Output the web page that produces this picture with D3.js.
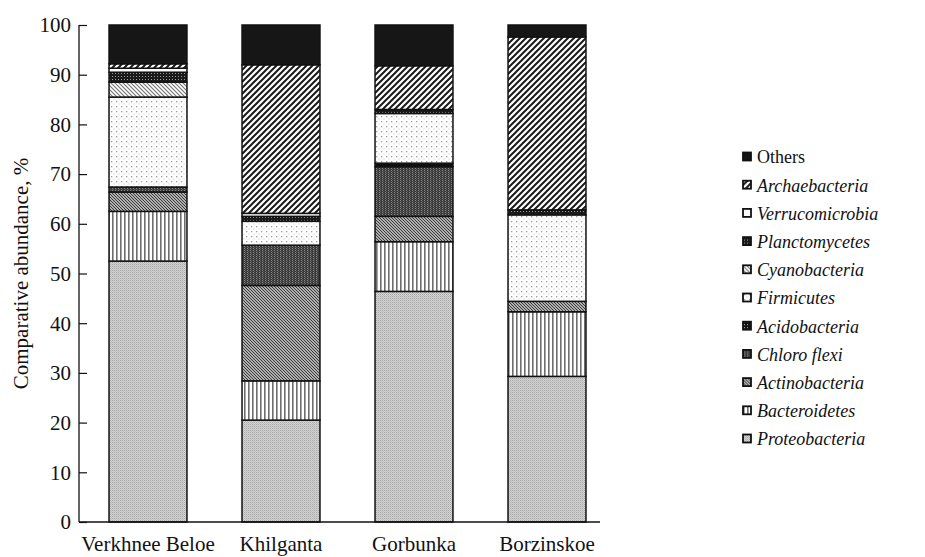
<!DOCTYPE html>
<html>
<head>
<meta charset="utf-8">
<script src="https://cdn.jsdelivr.net/npm/d3@7"></script>
<style>
  body { margin: 0; background: #fff; }
  #chart text { font-family: "Liberation Serif", serif !important; }
</style>
</head>
<body>
<svg id="chart" width="925" height="557" font-family="Liberation Serif"></svg>
<script>
// sites along the x axis
var sites = ["Verkhnee Beloe", "Khilganta", "Gorbunka", "Borzinskoe"];

// taxa, bottom to top of the stack
var taxa = ["Proteobacteria", "Bacteroidetes", "Actinobacteria", "Chloroflexi",
            "Acidobacteria", "Firmicutes", "Cyanobacteria", "Planctomycetes",
            "Verrucomicrobia", "Archaebacteria", "Others"];

// share of each taxon per site, % (same order as sites)
var proteobacteria  = [52.5, 20.5, 46.4, 29.3];
var bacteroidetes   = [10.0,  7.9, 10.0, 13.0];
var actinobacteria  = [ 3.9, 19.2,  5.1,  2.1];
var chloroflexi     = [ 1.0,  8.1, 10.0,  0.0];
var acidobacteria   = [ 0.0,  0.0,  0.7,  0.0];
var firmicutes      = [18.1,  4.8, 10.0, 17.4];
var cyanobacteria   = [ 3.0,  0.0,  0.0,  0.0];
var planctomycetes  = [ 2.0,  1.0,  0.8,  1.0];
var verrucomicrobia = [ 0.8,  0.6,  0.0,  0.0];
var archaebacteria  = [ 0.9, 29.9,  8.8, 34.8];
var others          = [ 7.8,  8.0,  8.2,  2.4];

var yTicks = [0, 10, 20, 30, 40, 50, 60, 70, 80, 90, 100];

var FONT = "Liberation Serif";

var series = [proteobacteria, bacteroidetes, actinobacteria, chloroflexi,
              acidobacteria, firmicutes, cyanobacteria, planctomycetes,
              verrucomicrobia, archaebacteria, others];

var rows = sites.map(function(s, i) {
    var r = { site: s };
    taxa.forEach(function(t, j) { r[t] = series[j][i]; });
    return r;
});

var svg = d3.select("#chart");
var defs = svg.append("defs");

// fill patterns, roughly like the printed hatchings
function pat(id, w, h, bg) {
    var p = defs.append("pattern")
        .attr("id", id)
        .attr("patternUnits", "userSpaceOnUse")
        .attr("width", w)
        .attr("height", h);
    p.append("rect").attr("width", w).attr("height", h).attr("fill", bg);
    return p;
}

var p;
// Proteobacteria: fine light grey texture
p = pat("p-proteo", 2, 2, "#d4d4d4");
p.append("rect").attr("x", 0).attr("y", 0).attr("width", 1).attr("height", 1).attr("fill", "#a8a8a8");
p.append("rect").attr("x", 1).attr("y", 1).attr("width", 1).attr("height", 1).attr("fill", "#bcbcbc");

// Bacteroidetes: vertical grey lines
p = pat("p-bact", 4, 4, "#fff");
p.append("rect").attr("x", 0).attr("y", 0).attr("width", 1.6).attr("height", 4).attr("fill", "#6e6e6e");

// Actinobacteria: dense backslash hatch
p = pat("p-actino", 3, 3, "#e0e0e0");
p.append("path").attr("d", "M0,0 L3,3 M-1,2 L1,4 M2,-1 L4,1").attr("stroke", "#333").attr("stroke-width", 1.1);

// Chloroflexi: dark with vertical light streaks
p = pat("p-chloro", 3, 2, "#3a3a3a");
p.append("rect").attr("x", 1).attr("y", 0).attr("width", 1).attr("height", 1).attr("fill", "#8a8a8a");
p.append("rect").attr("x", 2).attr("y", 1).attr("width", 1).attr("height", 1).attr("fill", "#5a5a5a");

// Acidobacteria: black with light dots
p = pat("p-acido", 3, 3, "#111");
p.append("rect").attr("x", 1).attr("y", 1).attr("width", 1).attr("height", 1).attr("fill", "#bbb");

// Firmicutes: white with sparse grey dots
p = pat("p-firm", 5, 5, "#fff");
p.append("rect").attr("x", 1).attr("y", 1).attr("width", 1.3).attr("height", 1.3).attr("fill", "#9a9a9a");
p.append("rect").attr("x", 3.5).attr("y", 3.5).attr("width", 1).attr("height", 1).attr("fill", "#c4c4c4");

// Cyanobacteria: lighter backslash hatch
p = pat("p-cyano", 4, 4, "#fff");
p.append("path").attr("d", "M0,0 L4,4 M-1,3 L1,5 M3,-1 L5,1").attr("stroke", "#777").attr("stroke-width", 1.2);

// Planctomycetes: black with dots
p = pat("p-planct", 3, 3, "#1a1a1a");
p.append("rect").attr("x", 1).attr("y", 1).attr("width", 1).attr("height", 1).attr("fill", "#999");

// Verrucomicrobia: plain white
p = pat("p-verru", 4, 4, "#fff");

// Archaebacteria: bold slash hatch
p = pat("p-archae", 6, 6, "#fff");
p.append("path").attr("d", "M0,6 L6,0 M-1.5,1.5 L1.5,-1.5 M4.5,7.5 L7.5,4.5").attr("stroke", "#1a1a1a").attr("stroke-width", 2);

var fills = {
    Proteobacteria: "url(#p-proteo)",
    Bacteroidetes: "url(#p-bact)",
    Actinobacteria: "url(#p-actino)",
    Chloroflexi: "url(#p-chloro)",
    Acidobacteria: "url(#p-acido)",
    Firmicutes: "url(#p-firm)",
    Cyanobacteria: "url(#p-cyano)",
    Planctomycetes: "url(#p-planct)",
    Verrucomicrobia: "url(#p-verru)",
    Archaebacteria: "url(#p-archae)",
    Others: "#161616"
};

var x = d3.scaleBand()
    .domain(sites)
    .range([81.5, 613.5])
    .paddingInner(0.414)
    .paddingOuter(0.207);

var y = d3.scaleLinear()
    .domain([0, 100])
    .range([522, 25]);

var stack = d3.stack().keys(taxa);
var layers = stack(rows);

var g = svg.selectAll(".layer")
    .data(layers)
    .enter().append("g")
    .attr("class", "layer")
    .attr("fill", function(d) { return fills[d.key]; });

g.selectAll("rect")
    .data(function(d) { return d.filter(function(v) { return v[1] - v[0] > 0; }); })
    .enter().append("rect")
    .attr("x", function(d) { return x(d.data.site); })
    .attr("width", x.bandwidth())
    .attr("y", function(d) { return y(d[1]); })
    .attr("height", function(d) { return y(d[0]) - y(d[1]); })
    .attr("stroke", "#111")
    .attr("stroke-width", 1.5);

// y axis, ticks pointing into the plot
var yAxis = svg.append("g")
    .attr("transform", "translate(79,0)")
    .call(d3.axisRight(y).tickValues(yTicks).tickSize(8).tickFormat(""));
yAxis.select(".domain").remove();
yAxis.selectAll("line").attr("stroke", "#111").attr("stroke-width", 1.2);

svg.append("line")
    .attr("x1", 79).attr("x2", 79)
    .attr("y1", y(100)).attr("y2", y(0))
    .attr("stroke", "#111").attr("stroke-width", 1.3);
svg.append("line")
    .attr("x1", 79).attr("x2", 600)
    .attr("y1", y(0)).attr("y2", y(0))
    .attr("stroke", "#111").attr("stroke-width", 1.3);

svg.selectAll(".ylab")
    .data(yTicks)
    .enter().append("text")
    .attr("class", "ylab")
    .attr("x", 71)
    .attr("y", function(d) { return y(d); })
    .attr("dy", "0.35em")
    .attr("text-anchor", "end")
    .attr("font-size", 21)
    .attr("font-family", FONT)
    .attr("fill", "#111")
    .text(function(d) { return d; });

svg.selectAll(".xlab")
    .data(sites)
    .enter().append("text")
    .attr("class", "xlab")
    .attr("x", function(d) { return x(d) + x.bandwidth() / 2; })
    .attr("y", 551)
    .attr("text-anchor", "middle")
    .attr("font-size", 21)
    .attr("font-family", FONT)
    .attr("fill", "#111")
    .text(function(d) { return d; });

svg.append("text")
    .attr("transform", "translate(28," + y(50) + ") rotate(-90)")
    .attr("text-anchor", "middle")
    .attr("font-size", 21)
    .attr("font-family", FONT)
    .attr("fill", "#111")
    .text("Comparative abundance, %");

// legend, top entry is the top of the stack
var legendKeys = taxa.slice().reverse();
var leg = svg.selectAll(".leg")
    .data(legendKeys)
    .enter().append("g")
    .attr("class", "leg")
    .attr("transform", function(d, i) { return "translate(743," + (157 + i * 28.2) + ")"; });

leg.append("rect")
    .attr("x", 0).attr("y", -4.5)
    .attr("width", 8).attr("height", 8)
    .attr("fill", function(d) { return fills[d]; })
    .attr("stroke", "#111")
    .attr("stroke-width", 1.8);

leg.append("text")
    .attr("x", 14)
    .attr("y", 0)
    .attr("dy", "0.35em")
    .attr("font-size", 18)
    .attr("font-family", FONT)
    .attr("font-style", function(d) { return d === "Others" ? "normal" : "italic"; })
    .attr("fill", "#111")
    .text(function(d) { return d === "Chloroflexi" ? "Chloro flexi" : d; });
</script>
</body>
</html>
